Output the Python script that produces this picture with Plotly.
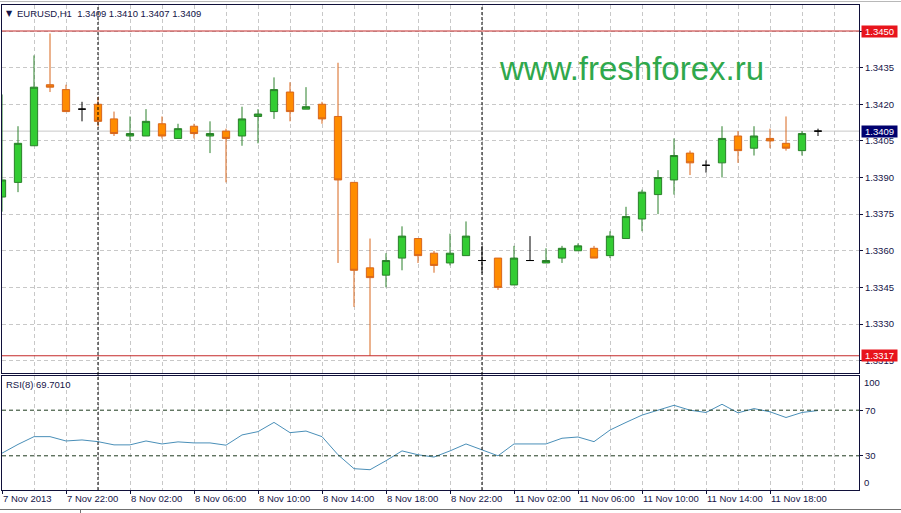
import plotly.graph_objects as go

# ---------------- data ----------------
symbol = "EURUSD,H1"
days = ["7 Nov"] * 6 + ["8 Nov"] * 24 + ["11 Nov"] * 22

open_ = [1.3382, 1.3388, 1.3403, 1.3428, 1.3426, 1.3418, 1.3420, 1.3414, 1.3407, 1.3407,
         1.3412, 1.3406, 1.3411, 1.3407, 1.3409, 1.3407, 1.3415, 1.3417, 1.3425, 1.3418,
         1.3420, 1.3415, 1.3388, 1.3353, 1.3350, 1.3357, 1.3365, 1.3359, 1.3355, 1.3358,
         1.3356, 1.3357, 1.3346, 1.3356, 1.3355, 1.3357, 1.3360, 1.3361, 1.3358, 1.3365,
         1.3373, 1.3383, 1.3389, 1.3400, 1.3395, 1.3396, 1.3407, 1.3402, 1.3406, 1.3404,
         1.3401, 1.3409]
high = [1.3424, 1.3411, 1.3440, 1.3449, 1.3428, 1.3421, 1.3423, 1.3417, 1.3415, 1.3418,
        1.3415, 1.3412, 1.3412, 1.3413, 1.3410, 1.3419, 1.3418, 1.3431, 1.3429, 1.3427,
        1.3421, 1.3437, 1.3388, 1.3365, 1.3359, 1.3370, 1.3365, 1.3360, 1.3367, 1.3372,
        1.3362, 1.3357, 1.3362, 1.3366, 1.3361, 1.3362, 1.3363, 1.3362, 1.3368, 1.3378,
        1.3385, 1.3393, 1.3406, 1.3401, 1.3397, 1.3411, 1.3409, 1.3411, 1.3410, 1.3415,
        1.3409, 1.3410]
low = [1.3376, 1.3384, 1.3403, 1.3425, 1.3417, 1.3413, 1.3411, 1.3407, 1.3405, 1.3407,
       1.3406, 1.3406, 1.3406, 1.3400, 1.3388, 1.3403, 1.3404, 1.3414, 1.3413, 1.3418,
       1.3412, 1.3355, 1.3337, 1.3317, 1.3345, 1.3352, 1.3355, 1.3351, 1.3354, 1.3358,
       1.3351, 1.3344, 1.3346, 1.3356, 1.3355, 1.3355, 1.3360, 1.3357, 1.3357, 1.3365,
       1.3368, 1.3375, 1.3383, 1.3391, 1.3392, 1.3390, 1.3396, 1.3399, 1.3402, 1.3401,
       1.3399, 1.3407]
close = [1.3389, 1.3404, 1.3427, 1.3427, 1.3417, 1.3418, 1.3413, 1.3408, 1.3408, 1.3413,
         1.3407, 1.3410, 1.3408, 1.3408, 1.3406, 1.3414, 1.3416, 1.3426, 1.3417, 1.3419,
         1.3414, 1.3389, 1.3352, 1.3349, 1.3356, 1.3366, 1.3358, 1.3354, 1.3359, 1.3366,
         1.3356, 1.3345, 1.3357, 1.3356, 1.3356, 1.3361, 1.3362, 1.3357, 1.3366, 1.3374,
         1.3384, 1.3390, 1.3399, 1.3396, 1.3395, 1.3406, 1.3401, 1.3407, 1.3405, 1.3402,
         1.3408, 1.3409]
rsi = [32.3, 40.0, 46.8, 46.8, 43.0, 43.9, 42.4, 39.6, 39.6, 43.0,
       40.4, 42.2, 41.3, 41.3, 39.3, 48.3, 51.2, 59.3, 50.3, 51.7,
       46.8, 30.9, 18.7, 17.8, 25.7, 34.3, 30.9, 28.9, 34.3, 40.4,
       35.2, 30.0, 40.4, 40.4, 40.4, 45.4, 46.5, 42.4, 52.6, 59.3,
       65.7, 70.0, 74.3, 70.0, 68.0, 75.2, 67.7, 71.4, 68.6, 63.6,
       68.0, 69.701]
rsi_period = 8
rsi_levels = [70, 30]
hlines = [1.3450, 1.3317]
price_ticks = [1.3315, 1.3330, 1.3345, 1.3360, 1.3375, 1.3390, 1.3405, 1.3420, 1.3435, 1.3450]
time_tick_bars = [0, 4, 8, 12, 16, 20, 24, 28, 32, 36, 40, 44, 48]
time_tick_labels = ["7 Nov 2013", "7 Nov 22:00", "8 Nov 02:00", "8 Nov 06:00", "8 Nov 10:00",
                    "8 Nov 14:00", "8 Nov 18:00", "8 Nov 22:00", "11 Nov 02:00", "11 Nov 06:00",
                    "11 Nov 10:00", "11 Nov 14:00", "11 Nov 18:00"]
watermark = "www.freshforex.ru"

# ---------------- styling ----------------
W, H = 901, 513
ML, MR, MT, MB = 2, 42, 5, 23
PW, PH = W - ML - MR, H - MT - MB
FONT = "Liberation Sans, Arial, sans-serif"
FS = 9.5
NAVY = "#141448"
FRAME = "#10103a"
GRID = "#c8c8c8"
GREEN_FILL, GREEN_LINE = "#33cc33", "#2a802a"
ORANGE_FILL, ORANGE_LINE = "#ff8c00", "#d8661c"


def px_x(px):
    return (px - ML) / PW


def px_y(py):
    return 1 - (py - MT) / PH


n = len(close)
bars = list(range(n))
is_doji = [o == c for o, c in zip(open_, close)]
xi = [b for b in bars if not is_doji[b]]
xd = [b for b in bars if is_doji[b]]

fig = go.Figure()

fig.add_trace(go.Candlestick(
    x=xi,
    open=[open_[b] for b in xi], high=[high[b] for b in xi],
    low=[low[b] for b in xi], close=[close[b] for b in xi],
    increasing=dict(fillcolor=GREEN_FILL, line=dict(color=GREEN_LINE, width=1)),
    decreasing=dict(fillcolor=ORANGE_FILL, line=dict(color=ORANGE_LINE, width=1)),
    xaxis="x", yaxis="y", showlegend=False, hoverinfo="skip"))

fig.add_trace(go.Candlestick(
    x=xd,
    open=[open_[b] for b in xd], high=[high[b] for b in xd],
    low=[low[b] for b in xd], close=[close[b] for b in xd],
    increasing=dict(fillcolor="black", line=dict(color="black", width=1)),
    decreasing=dict(fillcolor="black", line=dict(color="black", width=1)),
    xaxis="x", yaxis="y", showlegend=False, hoverinfo="skip"))

fig.add_trace(go.Scatter(
    x=bars, y=rsi, mode="lines", line=dict(color="#4a8fb8", width=1),
    xaxis="x2", yaxis="y2", showlegend=False, hoverinfo="skip"))

main_dom = [px_y(373), 1]
rsi_dom = [0, px_y(376)]
xrange = [0, (859 - 2) / 16]
y_top = hlines[0] + (31 - MT) / 24417
y_bot = hlines[0] - (373 - 31) / 24417

grid_minor = dict(tickmode="array", tickvals=list(range(0, n + 2, 2)), showgrid=True,
                  gridcolor=GRID, griddash="4px,3px", gridwidth=1, ticks="")

fig.update_layout(
    width=W, height=H,
    margin=dict(l=ML, r=MR, t=MT, b=MB, pad=0, autoexpand=False),
    paper_bgcolor="white", plot_bgcolor="white",
    font=dict(family=FONT, size=FS, color=NAVY),
    boxgap=0.35,
    xaxis=dict(domain=[0, 1], anchor="y", range=xrange, tickmode="array",
               tickvals=time_tick_bars, showticklabels=False, ticks="",
               showgrid=True, gridcolor=GRID, griddash="4px,3px", gridwidth=1,
               minor=grid_minor, zeroline=False, automargin=False,
               showline=True, linecolor=FRAME, linewidth=1, mirror=True,
               rangeslider=dict(visible=False), fixedrange=True),
    yaxis=dict(domain=main_dom, anchor="x", side="right", range=[y_bot, y_top],
               tickmode="array", tickvals=price_ticks,
               ticktext=[f"{v:.4f}" for v in price_ticks],
               ticks="outside", ticklen=3, tickcolor=FRAME,
               tickfont=dict(size=FS, color=NAVY), automargin=False,
               showgrid=True, gridcolor=GRID, griddash="4px,3px", gridwidth=1,
               zeroline=False, showline=True, linecolor=FRAME, linewidth=1, mirror=True),
    xaxis2=dict(domain=[0, 1], anchor="y2", range=xrange, matches="x", tickmode="array",
                tickvals=time_tick_bars, ticktext=time_tick_labels,
                ticklabelposition="outside right", tickangle=0,
                ticks="outside", ticklen=3, tickcolor=FRAME,
                tickfont=dict(size=FS, color=NAVY), automargin=False,
                showgrid=True, gridcolor=GRID, griddash="4px,3px", gridwidth=1,
                minor=grid_minor, zeroline=False,
                showline=True, linecolor=FRAME, linewidth=1, mirror=True),
    yaxis2=dict(domain=rsi_dom, anchor="x2", side="right", range=[0, 100],
                tickmode="array", tickvals=rsi_levels,
                ticktext=[str(v) for v in rsi_levels],
                ticks="outside", ticklen=3, tickcolor=FRAME,
                tickfont=dict(size=FS, color=NAVY), automargin=False,
                showgrid=False, zeroline=False,
                showline=True, linecolor=FRAME, linewidth=1, mirror=True),
)

shapes = []
for lv in hlines:
    shapes.append(dict(type="line", xref="x domain", yref="y", x0=0, x1=1, y0=lv, y1=lv,
                       line=dict(color="#c42a2a", width=1), layer="above"))
shapes.append(dict(type="line", xref="x domain", yref="y", x0=0, x1=1,
                   y0=close[-1], y1=close[-1], line=dict(color="#c8c8c8", width=1), layer="below"))
for lv in rsi_levels:
    shapes.append(dict(type="line", xref="x2 domain", yref="y2", x0=0, x1=1, y0=lv, y1=lv,
                       line=dict(color="#1e3a1e", width=1, dash="4px,3px"), layer="above"))
for b in range(1, n):
    if days[b] != days[b - 1]:
        shapes.append(dict(type="line", xref="x", yref="paper", x0=b, x1=b, y0=0, y1=1,
                           line=dict(color="black", width=1, dash="3px,2px"), layer="above"))
shapes.append(dict(type="line", xref="paper", yref="paper", x0=px_x(0), x1=px_x(W),
                   y0=px_y(1.5), y1=px_y(1.5), line=dict(color="#b8b8b8", width=1)))
shapes.append(dict(type="line", xref="paper", yref="paper", x0=px_x(0), x1=px_x(W),
                   y0=px_y(509.5), y1=px_y(509.5), line=dict(color="#707070", width=1)))
shapes.append(dict(type="line", xref="paper", yref="paper", x0=px_x(80.5), x1=px_x(80.5),
                   y0=px_y(509.5), y1=px_y(513), line=dict(color="#707070", width=1)))
fig.update_layout(shapes=shapes)

ann = []
for lv in hlines:
    ann.append(dict(xref="paper", yref="y", x=1, y=lv, xanchor="left", yanchor="middle",
                    xshift=2, text=f"{lv:.4f}", showarrow=False, bgcolor="#e8141c",
                    font=dict(color="white", size=FS, family=FONT), width=34, height=10,
                    borderpad=0.5, align="center"))
ann.append(dict(xref="paper", yref="y", x=1, y=close[-1], xanchor="left", yanchor="middle",
                xshift=2, text=f"{close[-1]:.4f}", showarrow=False, bgcolor="#00006e",
                font=dict(color="white", size=FS, family=FONT), width=34, height=10,
                borderpad=0.5, align="center"))
ann.append(dict(xref="paper", yref="y2", x=1, y=100, xanchor="left", yanchor="top",
                xshift=3, yshift=1, text="100", showarrow=False,
                font=dict(color=NAVY, size=FS, family=FONT)))
ann.append(dict(xref="paper", yref="y2", x=1, y=0, xanchor="left", yanchor="bottom",
                xshift=3, yshift=0, text="0", showarrow=False,
                font=dict(color=NAVY, size=FS, family=FONT)))
ann.append(dict(xref="paper", yref="paper", x=px_x(4), y=px_y(13.5), xanchor="left",
                yanchor="middle", text="▼", showarrow=False,
                font=dict(color=NAVY, size=8, family="DejaVu Sans")))
title_txt = (f"{symbol}\u00a0\u00a0{open_[-1]:.4f} {high[-1]:.4f} "
             f"{low[-1]:.4f} {close[-1]:.4f}")
ann.append(dict(xref="paper", yref="paper", x=px_x(15), y=px_y(13.5), xanchor="left",
                yanchor="middle", text=title_txt, showarrow=False,
                font=dict(color=NAVY, size=FS, family=FONT)))
ann.append(dict(xref="paper", yref="paper", x=px_x(4), y=px_y(384.5), xanchor="left",
                yanchor="middle", text=f"RSI({rsi_period}) {rsi[-1]:.4f}", showarrow=False,
                font=dict(color=NAVY, size=FS, family=FONT)))
ann.append(dict(xref="paper", yref="paper", x=px_x(497), y=px_y(69), xanchor="left",
                yanchor="middle", text=watermark, showarrow=False,
                font=dict(color="#2fa84c", size=33, family=FONT)))
fig.update_layout(annotations=ann)

fig.write_html("out.html", config={"responsive": False, "displayModeBar": False},
               post_script="document.body.style.margin='0';document.body.style.overflow='hidden';")
